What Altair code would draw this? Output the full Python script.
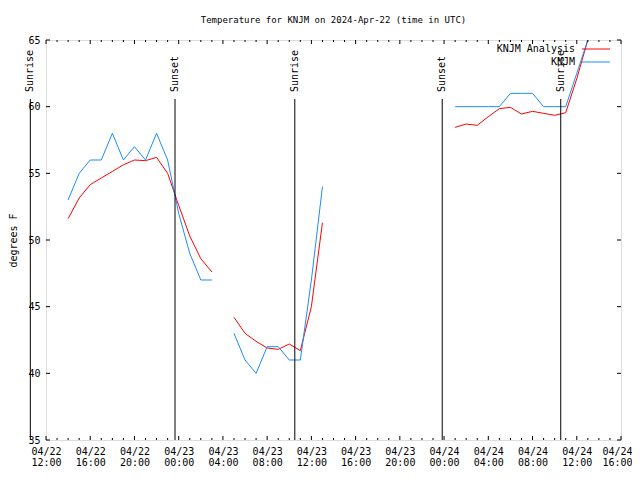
import altair as alt
import pandas as pd

FONT = "DejaVu Sans Mono"
chart_title = "Temperature for KNJM on 2024-Apr-22 (time in UTC)"
y_title = "degrees F"
series_names = ["KNJM Analysis", "KNJM"]
series_colors = ["#ff0000", "#1a8cff"]

# segment 1: 04/22 14:00 .. 04/23 03:00 (hourly)
seg1_start, seg1_n = "2024-04-22 14:00", 14
analysis1 = [51.6, 53.15, 54.15, 54.65, 55.14, 55.64, 56.0, 55.95, 56.2, 55.0, 52.6, 50.3, 48.6, 47.6]
obs1 = [53, 55, 56, 56, 58, 56, 57, 56, 58, 56, 52, 49, 47, 47]
# segment 2: 04/23 05:00 .. 04/23 13:00
seg2_start, seg2_n = "2024-04-23 05:00", 9
analysis2 = [44.2, 43.0, 42.4, 41.9, 41.8, 42.2, 41.7, 45.0, 51.3]
obs2 = [43, 41, 40, 42, 42, 41, 41, 47, 54]
# segment 3: 04/24 01:00 .. 04/24 13:00
seg3_start, seg3_n = "2024-04-24 01:00", 13
analysis3 = [58.45, 58.7, 58.6, 59.25, 59.85, 59.95, 59.45, 59.65, 59.5, 59.35, 59.55, 62.1, 65.0]
obs3 = [60, 60, 60, 60, 60, 61, 61, 61, 60, 60, 60, 62.5, 65.0]

event_labels = ["Sunrise", "Sunset", "Sunrise", "Sunset", "Sunrise"]
event_times = ["2024-04-22T10:35:00Z", "2024-04-22T23:40:00Z", "2024-04-23T10:30:00Z",
               "2024-04-23T23:50:00Z", "2024-04-24T10:33:00Z"]

y_ticks = [35, 40, 45, 50, 55, 60, 65]

def iso(ts):
    return [t.strftime("%Y-%m-%dT%H:%M:%SZ") for t in ts]

rows = []
for seg, (start, n, a, o) in enumerate([(seg1_start, seg1_n, analysis1, obs1),
                                        (seg2_start, seg2_n, analysis2, obs2),
                                        (seg3_start, seg3_n, analysis3, obs3)]):
    ts = iso(pd.date_range(start, periods=n, freq="h"))
    for t, va, vo in zip(ts, a, o):
        rows.append({"t": t, "seg": seg, "series": series_names[0], "v": va})
        rows.append({"t": t, "seg": seg, "series": series_names[1], "v": vo})
df = pd.DataFrame(rows)

major = iso(pd.date_range("2024-04-22 12:00", "2024-04-24 16:00", freq="4h"))
minor = iso(pd.date_range("2024-04-22 12:00", "2024-04-24 16:00", freq="h"))
major_df = pd.DataFrame({"t": major})
minor_df = pd.DataFrame({"t": [m for m in minor if m not in major]})
ev_df = pd.DataFrame({"t": event_times, "label": event_labels})
yt_df = pd.DataFrame({"y": y_ticks})
leg_df = pd.DataFrame({"name": series_names, "color": series_colors})

W, H = 575, 400
x_scale = alt.Scale(type="utc",
                    domain=[alt.DateTime(year=2024, month=4, date=22, hours=12, utc=True),
                            alt.DateTime(year=2024, month=4, date=24, hours=16, utc=True)])
y_scale = alt.Scale(domain=[35, 65], nice=False, zero=False)

last_tick_ms = int(pd.Timestamp(major[-1]).value // 10**6)
x_axis = alt.Axis(values=[alt.DateTime(year=int(m[0:4]), month=int(m[5:7]), date=int(m[8:10]),
                                       hours=int(m[11:13]), utc=True) for m in major],
                  labelExpr="[utcFormat(datum.value, '%m/%d'), utcFormat(datum.value, '%H:%M')]",
                  title=None, domain=False, ticks=False, grid=False, labelFont=FONT,
                  labelFontSize=10, labelColor="black", labelPadding=6, labelLineHeight=11.5,
                  labelFlush=False, labelOverlap=False,
                  labelOffset={"condition": {"test": f"+datum.value >= {last_tick_ms}", "value": -4},
                               "value": 0})
y_axis = alt.Axis(values=y_ticks, title=y_title, domain=False, ticks=False, grid=False,
                  labelFont=FONT, labelFontSize=10, labelColor="black", labelPadding=6,
                  titleFont=FONT, titleFontSize=10, titleFontWeight="normal", titleColor="black",
                  titleX=-33, titleY=200, titleAngle=270, titleAlign="center", titleBaseline="middle")

lines = alt.Chart(df).mark_line(strokeWidth=1, clip=True).encode(
    x=alt.X("t:T", scale=x_scale, axis=x_axis),
    y=alt.Y("v:Q", scale=y_scale, axis=y_axis),
    color=alt.Color("series:N", scale=alt.Scale(domain=series_names, range=series_colors), legend=None),
    detail="seg:N",
    order=alt.Order("t:T"),
)
red = lines.transform_filter(alt.datum.series == series_names[0])
blue = lines.transform_filter(alt.datum.series == series_names[1])

ev_rules = alt.Chart(ev_df).mark_rule(color="black", strokeWidth=1, clip=False).encode(
    x=alt.X("t:T", scale=x_scale), y=alt.value(59), y2=alt.value(H))
ev_text = alt.Chart(ev_df).mark_text(angle=270, align="left", baseline="middle", font=FONT,
                                     fontSize=10, color="black", clip=False).encode(
    x=alt.X("t:T", scale=x_scale), y=alt.value(52), text="label:N")

def xticks(data, y0, y1):
    return alt.Chart(data).mark_rule(color="black", strokeWidth=1).encode(
        x=alt.X("t:T", scale=x_scale), y=alt.value(y0), y2=alt.value(y1))

tick_layers = [xticks(major_df, H, H - 4), xticks(minor_df, H, H - 2),
               xticks(major_df, 0, 4), xticks(minor_df, 0, 2)]
ytick_l = alt.Chart(yt_df).mark_rule(color="black", strokeWidth=1).encode(
    y=alt.Y("y:Q", scale=y_scale), x=alt.value(0), x2=alt.value(4))
ytick_r = alt.Chart(yt_df).mark_rule(color="black", strokeWidth=1).encode(
    y=alt.Y("y:Q", scale=y_scale), x=alt.value(W), x2=alt.value(W - 4))

leg_layers = []
for i, ypos in enumerate([9, 22]):
    sub = leg_df.iloc[[i]]
    leg_layers.append(alt.Chart(sub).mark_rule(strokeWidth=1, color=series_colors[i]).encode(
        x=alt.value(536), x2=alt.value(564), y=alt.value(ypos)))
    leg_layers.append(alt.Chart(sub).mark_text(align="right", baseline="middle", font=FONT,
                                               fontSize=10, color="black").encode(
        x=alt.value(529), y=alt.value(ypos), text="name:N"))

chart = alt.layer(red, blue, ev_rules, ev_text, *tick_layers, ytick_l, ytick_r, *leg_layers).properties(
    width=W, height=H,
    autosize=alt.AutoSizeParams(type="none"),
    padding={"left": 38, "top": 32, "right": 11, "bottom": 28},
    title=alt.TitleParams(chart_title, font=FONT, fontSize=9, fontWeight="normal", color="black",
                          anchor="middle", offset=10),
).configure_view(stroke="black", strokeWidth=1).configure(background="white")

chart.save("out.html", embed_options={"renderer": "svg", "actions": False})
